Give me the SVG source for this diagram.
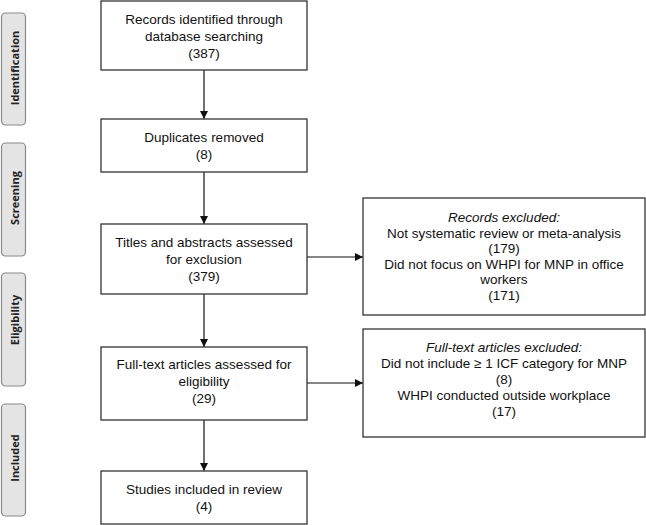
<svg xmlns="http://www.w3.org/2000/svg" width="646" height="525" viewBox="0 0 646 525">
<defs>
<marker id="ah" markerWidth="8" markerHeight="8" refX="8" refY="4" orient="auto" markerUnits="userSpaceOnUse">
<path d="M0,0 L8,4 L0,8 Z" fill="#111"/>
</marker>
<style>
.box{fill:#fff;stroke:#333;stroke-width:1.3}
.phase{fill:#e4e4e4;stroke:#8a8a8a;stroke-width:1.2}
.pt{font-family:"Open Sans","DejaVu Sans",sans-serif;font-weight:bold;font-size:11px;fill:#222;text-anchor:middle}
.t{font-family:"Liberation Sans",Arial,sans-serif;font-size:13.5px;fill:#111;text-anchor:middle}
.i{font-style:italic}
.c{stroke:#111;stroke-width:1.2;fill:none}
</style>
</defs>
<rect width="646" height="525" fill="#fff"/>
<g id="phase-identification">
<rect class="phase" x="1.5" y="13" width="24" height="112" rx="4"/>
<text class="pt" transform="translate(18.5,68) rotate(-90)">Identification</text>
</g>
<g id="phase-screening">
<rect class="phase" x="1.5" y="143" width="24" height="113" rx="4"/>
<text class="pt" transform="translate(18.5,198) rotate(-90)">Screening</text>
</g>
<g id="phase-eligibility">
<rect class="phase" x="1.5" y="273" width="24" height="113" rx="4"/>
<text class="pt" transform="translate(18.5,320) rotate(-90)">Eligibility</text>
</g>
<g id="phase-included">
<rect class="phase" x="1.5" y="404" width="24" height="112" rx="4"/>
<text class="pt" transform="translate(18.5,458) rotate(-90)">Included</text>
</g>
<g id="connectors">
<line class="c" x1="204" y1="70" x2="204" y2="119" marker-end="url(#ah)"/>
<line class="c" x1="204" y1="172" x2="204" y2="224" marker-end="url(#ah)"/>
<line class="c" x1="204" y1="294" x2="204" y2="347" marker-end="url(#ah)"/>
<line class="c" x1="204" y1="420" x2="204" y2="471" marker-end="url(#ah)"/>
<line class="c" x1="307" y1="257" x2="363" y2="257" marker-end="url(#ah)"/>
<line class="c" x1="307" y1="383" x2="363" y2="383" marker-end="url(#ah)"/>
</g>
<g id="records-identified">
<rect class="box" x="101" y="1" width="206" height="69"/>
<text class="t" x="204" y="24">Records identified through</text>
<text class="t" x="204" y="41">database searching</text>
<text class="t" x="204" y="58">(387)</text>
</g>
<g id="duplicates-removed">
<rect class="box" x="101" y="119" width="206" height="53"/>
<text class="t" x="204" y="142">Duplicates removed</text>
<text class="t" x="204" y="159">(8)</text>
</g>
<g id="titles-abstracts">
<rect class="box" x="101" y="224" width="206" height="70"/>
<text class="t" x="204" y="247">Titles and abstracts assessed</text>
<text class="t" x="204" y="264">for exclusion</text>
<text class="t" x="204" y="281">(379)</text>
</g>
<g id="full-text-assessed">
<rect class="box" x="101" y="347" width="206" height="73"/>
<text class="t" x="204" y="369">Full-text articles assessed for</text>
<text class="t" x="204" y="386">eligibility</text>
<text class="t" x="204" y="403">(29)</text>
</g>
<g id="studies-included">
<rect class="box" x="101" y="471" width="206" height="53"/>
<text class="t" x="204" y="494">Studies included in review</text>
<text class="t" x="204" y="511">(4)</text>
</g>
<g id="records-excluded">
<rect class="box" x="363" y="198" width="282" height="117"/>
<text class="t i" x="504" y="222">Records excluded:</text>
<text class="t" x="504" y="237.6">Not systematic review or meta-analysis</text>
<text class="t" x="504" y="253.2">(179)</text>
<text class="t" x="504" y="268.8">Did not focus on WHPI for MNP in office</text>
<text class="t" x="504" y="284.4">workers</text>
<text class="t" x="504" y="300">(171)</text>
</g>
<g id="full-text-excluded">
<rect class="box" x="363" y="329" width="282" height="108"/>
<text class="t i" x="504" y="352">Full-text articles excluded:</text>
<text class="t" x="504" y="368">Did not include ≥ 1 ICF category for MNP</text>
<text class="t" x="504" y="384">(8)</text>
<text class="t" x="504" y="400">WHPI conducted outside workplace</text>
<text class="t" x="504" y="416">(17)</text>
</g>
</svg>
